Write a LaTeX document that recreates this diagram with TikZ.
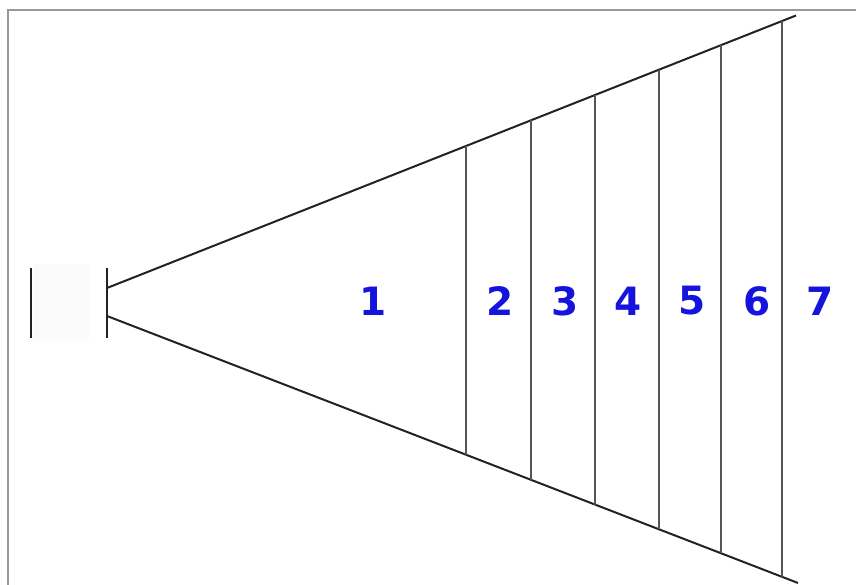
\documentclass[tikz,border=0pt]{standalone}
\usepackage{fontspec}
\newfontfamily\labelfont{DejaVu Sans}
\definecolor{framegray}{HTML}{999999}
\definecolor{numblue}{RGB}{20,20,220}
\definecolor{linedark}{HTML}{222222}
\definecolor{linemid}{HTML}{555555}
\definecolor{boxfill}{HTML}{FBFBFB}
\tikzset{
  frameline/.style={draw=framegray, line width=2pt},
  barline/.style={draw=linedark, line width=2.8pt},
  rayline/.style={draw=linedark, line width=2pt},
  divline/.style={draw=linemid, line width=2pt},
  numlabel/.style={text=numblue, font=\labelfont\bfseries\fontsize{39}{41}\selectfont, inner sep=0pt, anchor=center}
}
\begin{document}
\begin{tikzpicture}[x=1pt,y=-1pt]
\useasboundingbox (0,0) rectangle (856,585);
% frame
\coordinate (fbl) at (8,585);
\coordinate (ftl) at (8,10);
\coordinate (ftr) at (856,10);
\draw[frameline] (fbl) -- (ftl) -- (ftr);
% faint box between bars
\fill[boxfill] (33,264) rectangle (89,341);
% bars
\coordinate (b1t) at (31,268);
\coordinate (b1b) at (31,338);
\coordinate (b2t) at (107,268);
\coordinate (b2b) at (107,338);
\draw[barline] (b1t) -- (b1b);
\draw[barline] (b2t) -- (b2b);
% rays
\coordinate (ua) at (107,288);
\coordinate (ue) at (796,15.5);
\coordinate (la) at (107,316);
\coordinate (le) at (798,583);
\draw[rayline] (ua) -- (ue);
\draw[rayline] (la) -- (le);
% dividers
\foreach \i/\x in {1/466,2/531,3/595,4/659,5/721,6/782}{
  \coordinate (d\i t) at (\x,{288-0.3957*(\x-107)});
  \coordinate (d\i b) at (\x,{316+0.3866*(\x-107)});
  \draw[divline] (d\i t) -- (d\i b);
}
% labels
\node[numlabel] (n1) at (373,301) {1};
\node[numlabel] (n2) at (500,301) {2};
\node[numlabel] (n3) at (565,301) {3};
\node[numlabel] (n4) at (628,301) {4};
\node[numlabel] (n5) at (692,301) {5};
\node[numlabel] (n6) at (757,301) {6};
\node[numlabel] (n7) at (820,301) {7};
\end{tikzpicture}
\end{document}
